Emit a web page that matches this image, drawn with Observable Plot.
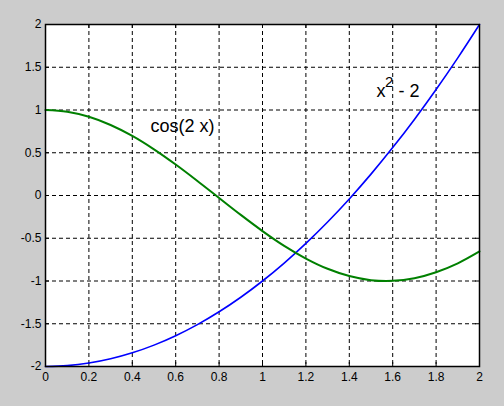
<!DOCTYPE html>
<html><head><meta charset="utf-8">
<script src="https://cdn.jsdelivr.net/npm/d3@7"></script>
<script src="https://cdn.jsdelivr.net/npm/@observablehq/plot@0.6"></script>
<style>
html,body{margin:0;padding:0;background:#cccccc;}
#chart{width:504px;height:406px;}
</style></head>
<body><div id="chart"></div>
<script>
const xs = [0,0.1,0.2,0.3,0.4,0.5,0.6,0.7,0.8,0.9,1.0,1.1,1.2,1.3,1.4,1.5,1.6,1.7,1.8,1.9,2.0];
const cosVals = [1,0.98,0.921,0.825,0.697,0.540,0.362,0.170,-0.029,-0.227,-0.416,-0.589,-0.737,-0.857,-0.942,-0.990,-0.998,-0.967,-0.897,-0.793,-0.654];
const quadVals = [-2,-1.99,-1.96,-1.91,-1.84,-1.75,-1.64,-1.51,-1.36,-1.19,-1,-0.79,-0.56,-0.31,-0.04,0.25,0.56,0.89,1.24,1.61,2];
const xTicks = [0,0.2,0.4,0.6,0.8,1,1.2,1.4,1.6,1.8,2];
const yTicks = [-2,-1.5,-1,-0.5,0,0.5,1,1.5,2];
const cosLabel = [{x:0.484, y:0.81, t:"cos(2 x)"}];
const quadLabel = [{x:1.525, y:1.22, t:"x", dy:0, fs:18}, {x:1.565, y:1.22, t:"2", dy:-9, fs:15}, {x:1.627, y:1.22, t:"- 2", dy:0, fs:18}];

const cosData = xs.map((x,i)=>({x,y:cosVals[i]}));
const quadData = xs.map((x,i)=>({x,y:quadVals[i]}));
const fmt = d => String(d);

const W=504, H=406, ML=45, MR=25, MT=24, MB=40;
const fw = W-ML-MR, fh = H-MT-MB;

const plot = Plot.plot({
  width:W, height:H,
  marginLeft:ML, marginRight:MR, marginTop:MT, marginBottom:MB,
  style:{background:"#cccccc", fontFamily:"'Liberation Sans', Arial, sans-serif", fontSize:"12px", color:"black", overflow:"visible"},
  x:{domain:[0,2], label:null},
  y:{domain:[-2,2], label:null},
  marks:[
    Plot.frame({fill:"white", stroke:"none"}),
    Plot.ruleX(xTicks.slice(1,-1), {stroke:"black", strokeDasharray:"4,3", strokeWidth:1}),
    Plot.ruleY(yTicks.slice(1,-1), {stroke:"black", strokeDasharray:"4,3", strokeWidth:1}),
    Plot.ruleX(xTicks, {stroke:"black", strokeWidth:1, insetTop:fh-4}),
    Plot.ruleX(xTicks, {stroke:"black", strokeWidth:1, insetBottom:fh-4}),
    Plot.ruleY(yTicks, {stroke:"black", strokeWidth:1, insetRight:fw-4}),
    Plot.ruleY(yTicks, {stroke:"black", strokeWidth:1, insetLeft:fw-4}),
    Plot.axisX({ticks:xTicks, tickSize:0, tickPadding:6, fontSize:12, tickFormat:fmt}),
    Plot.axisY({ticks:yTicks, tickSize:0, tickPadding:4, fontSize:12, tickFormat:fmt}),
    Plot.line(quadData, {x:"x", y:"y", stroke:"#0000ff", strokeWidth:1.6, curve:"catmull-rom"}),
    Plot.line(cosData, {x:"x", y:"y", stroke:"#008000", strokeWidth:2, curve:"catmull-rom"}),
    Plot.text(cosLabel, {x:"x", y:"y", text:"t", textAnchor:"start", fontSize:18, fill:"black"}),
    ...quadLabel.map(d => Plot.text([d], {x:"x", y:"y", text:"t", textAnchor:"start", fontSize:d.fs, dy:d.dy, fill:"black"})),
    Plot.frame({stroke:"black", strokeWidth:1.5})
  ]
});
document.getElementById("chart").appendChild(plot);
</script></body></html>
